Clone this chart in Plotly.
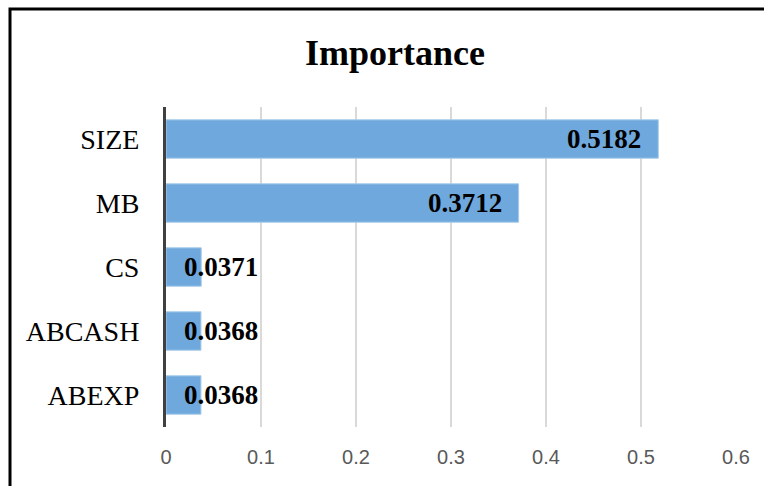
import plotly.graph_objects as go

features = ["SIZE", "MB", "CS", "ABCASH", "ABEXP"]
importance = [0.5182, 0.3712, 0.0371, 0.0368, 0.0368]
x_ticks = [0, 0.1, 0.2, 0.3, 0.4, 0.5, 0.6]
x_tick_labels = ["0", "0.1", "0.2", "0.3", "0.4", "0.5", "0.6"]
title_text = "Importance"

fig = go.Figure()
fig.add_trace(go.Bar(
    y=features,
    x=importance,
    orientation="h",
    marker=dict(color="#6FA8DC", line=dict(color="#A9CBEA", width=1)),
    width=0.6,
    hoverinfo="skip",
))

annotations = []
for f, v in zip(features, importance):
    big = v > 0.1
    annotations.append(dict(
        x=v, y=f, xref="x", yref="y",
        text="<b>%.4f</b>" % v,
        showarrow=False,
        xanchor="right" if big else "left",
        xshift=-15 if big else -19,
        font=dict(family="Liberation Serif", size=27, color="#000000"),
    ))

fig.update_layout(
    width=764, height=486,
    margin=dict(l=166, r=28, t=107, b=59),
    paper_bgcolor="white", plot_bgcolor="white",
    showlegend=False,
    title=dict(
        text="<b>%s</b>" % title_text,
        x=0.517, xanchor="center",
        y=1 - 52 / 486, yanchor="middle", yref="container",
        font=dict(family="Liberation Serif", size=36, color="#000000"),
    ),
    annotations=annotations,
    shapes=[dict(
        type="rect", xref="paper", yref="paper",
        x0=(10 - 166) / 570, x1=1.2, y0=-0.4, y1=(427 - 9) / 320,
        line=dict(color="#000000", width=3), fillcolor="rgba(0,0,0,0)",
        layer="below",
    )],
)

fig.update_xaxes(
    range=[0, 0.6],
    tickvals=x_ticks, ticktext=x_tick_labels,
    showgrid=True, gridcolor="#D9D9D9", gridwidth=2,
    zeroline=False, showline=False,
    ticks="",
    ticklabelstandoff=16,
    tickfont=dict(family="Liberation Sans", size=20, color="#595959"),
    fixedrange=True,
)
fig.update_yaxes(
    categoryorder="array", categoryarray=features[::-1],
    showgrid=False, zeroline=False,
    showline=True, linecolor="#404040", linewidth=3,
    ticks="",
    ticklabelstandoff=18,
    tickfont=dict(family="Liberation Serif", size=28, color="#000000"),
    fixedrange=True,
)

fig.write_html("out.html")
